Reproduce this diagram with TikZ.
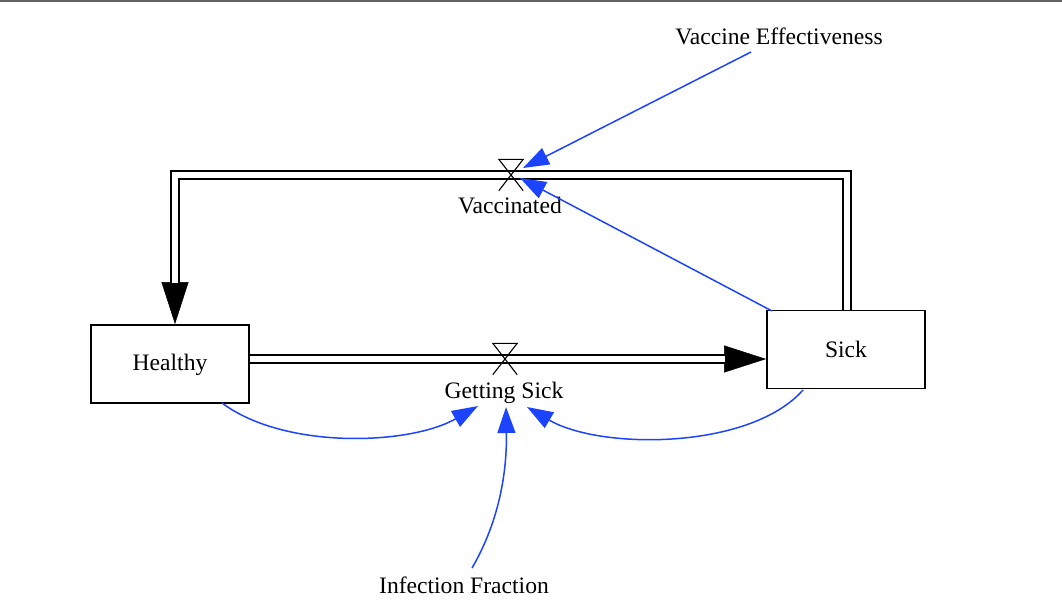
\documentclass[tikz,border=0pt]{standalone}
\usepackage{fontspec}
\setmainfont{Liberation Serif}
\usetikzlibrary{arrows.meta,calc}
\definecolor{linkblue}{RGB}{28,68,255}
\definecolor{topbar}{RGB}{100,100,100}
\tikzset{
  stock/.style={draw=black,line width=1.8pt,minimum width=158pt,minimum height=78pt,inner sep=0pt},
  lbl/.style={font=\fontsize{23.6}{27}\selectfont,anchor=base,inner sep=0pt},
  pipe/.style={draw=black,line width=2pt,double=white,double distance=6pt},
  flowtip/.style={draw=black,line width=0.5pt,-{Triangle[length=42pt,width=27pt]}},
  valvebox/.style={minimum width=24pt,minimum height=31pt,inner sep=0pt},
  valveline/.style={draw=black,line width=1.1pt},
  link/.style={draw=linkblue,line width=1.5pt,-{Triangle[length=26pt,width=18pt]}}
}
\begin{document}
\begin{tikzpicture}[x=1pt,y=-1pt]
\useasboundingbox (0,0) rectangle (1062,610);
\fill[topbar] (0,0) rectangle (1062,2.2);
% stocks
\node[stock] (healthy) at (170,364) {};
\node[stock] (sick) at (846,349.5) {};
\node[lbl] (healthylbl) at (170,370) {Healthy};
\node[lbl] (sicklbl) at (846,357) {Sick};
% valves
\node[valvebox] (gsvalve) at (505,359) {};
\node[valvebox] (vvalve) at (511,175) {};
\node[lbl] (gslbl) at (504,398) {Getting Sick};
\node[lbl] (vlbl) at (510,213) {Vaccinated};
\node[lbl] (velbl) at (779,45) {Vaccine Effectiveness};
\node[lbl] (iflbl) at (464,593) {Infection Fraction};
\coordinate (hin) at ($(healthy.north)+(5,0)$);
\coordinate (sout) at ($(sick.north)+(1,0)$);
\coordinate (gsin) at (healthy.east |- gsvalve.center);
\coordinate (gsout) at (sick.west |- gsvalve.center);
% flow arrow tips (thin under pipes)
\draw[flowtip] ($(gsout)+(-50,0)$) -- (gsout);
\draw[flowtip] ($(hin)+(0,-50)$) -- (hin);
% pipes
\draw[pipe,shorten >=41pt] (gsin) -- (gsout);
\draw[pipe,shorten >=41pt] (sout) |- (vvalve.center) -| (hin);
% valve symbols
\draw[valveline] (gsvalve.south west) -- (gsvalve.north east) -- (gsvalve.north west) -- (gsvalve.south east);
\draw[valveline] (vvalve.south west) -- (vvalve.north east) -- (vvalve.north west) -- (vvalve.south east);
% information links
\coordinate (vetail) at (751,52);
\coordinate (vehead) at (523,168);
\draw[link] (vetail) -- (vehead);
\coordinate (sicktail) at (772,311);
\coordinate (sickhead) at (520,178);
\draw[link] (sicktail) -- (sickhead);
\coordinate (htail) at (222,403);
\coordinate (hhead) at (478,406);
\draw[link] (htail) .. controls (285,450) and (410,445) .. (hhead);
\coordinate (stail) at (803,390);
\coordinate (shead) at (527,407);
\draw[link] (stail) .. controls (750,450) and (600,450) .. (shead);
\coordinate (iftail) at (472,568);
\coordinate (ifhead) at (506,407);
\draw[link] (iftail) .. controls (500,520) and (507,470) .. (ifhead);
\end{tikzpicture}
\end{document}
